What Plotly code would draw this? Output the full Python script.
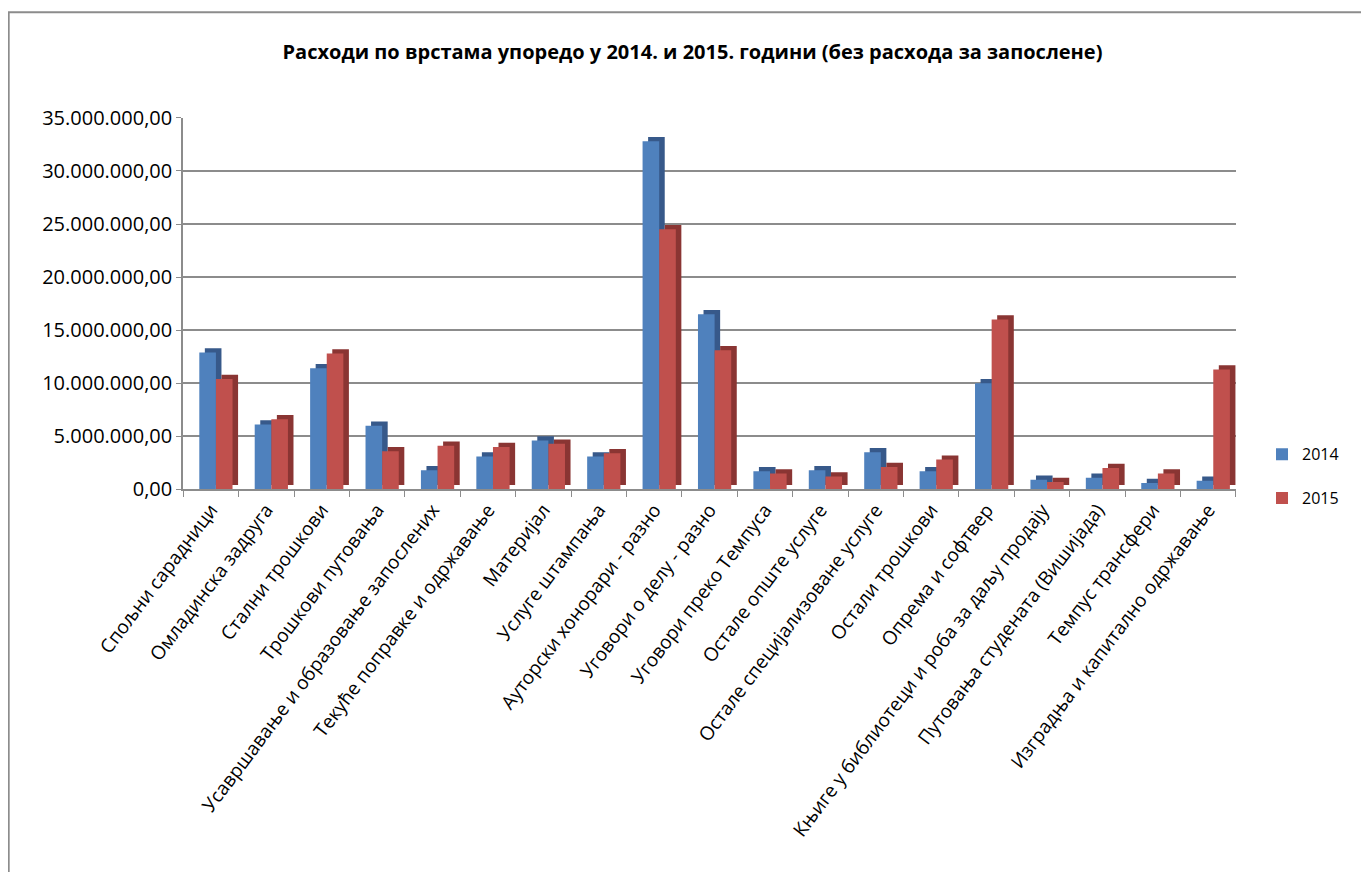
import plotly.graph_objects as go

categories = [
    "Спољни сарадници",
    "Омладинска задруга",
    "Стални трошкови",
    "Трошкови путовања",
    "Усавршавање и образовање запослених",
    "Текуће поправке и одржавање",
    "Материјал",
    "Услуге штампања",
    "Ауторски хонорари - разно",
    "Уговори о делу - разно",
    "Уговори преко Темпуса",
    "Остале опште услуге",
    "Остале специјализоване услуге",
    "Остали трошкови",
    "Опрема и софтвер",
    "Књиге у библиотеци и роба за даљу продају",
    "Путовања студената (Вишијада)",
    "Темпус трансфери",
    "Изградња и капитално одржавање",
]

values_2014 = [12900000, 6100000, 11400000, 6000000, 1800000, 3100000, 4600000, 3100000,
               32800000, 16500000, 1700000, 1800000, 3500000, 1700000, 10000000,
               900000, 1100000, 600000, 800000]
values_2015 = [10400000, 6600000, 12800000, 3600000, 4100000, 4000000, 4300000, 3400000,
               24500000, 13100000, 1500000, 1200000, 2100000, 2800000, 16000000,
               700000, 2000000, 1500000, 11300000]

y_ticks = [0, 5000000, 10000000, 15000000, 20000000, 25000000, 30000000, 35000000]

BLUE, BLUE_D = "#4F81BD", "#37598A"
RED, RED_D = "#C0504D", "#8A3533"
FONT = "Open Sans, Noto Sans, Liberation Sans, sans-serif"

W = 0.30
LIFT = 400000
SHIFT = 0.10

fig = go.Figure()
# 3D-like side faces (drawn behind the fronts)
fig.add_trace(go.Bar(x=categories, y=values_2014, base=LIFT, width=W, offset=-0.21 + SHIFT,
                     marker=dict(color=BLUE_D, line=dict(width=0)), showlegend=False,
                     hoverinfo="skip"))
fig.add_trace(go.Bar(x=categories, y=values_2014, width=W, offset=-0.21, name="2014",
                     marker=dict(color=BLUE, line=dict(width=0)), legendgroup="a"))
fig.add_trace(go.Bar(x=categories, y=values_2015, base=LIFT, width=W, offset=0.09 + SHIFT,
                     marker=dict(color=RED_D, line=dict(width=0)), showlegend=False,
                     hoverinfo="skip"))
fig.add_trace(go.Bar(x=categories, y=values_2015, width=W, offset=0.09, name="2015",
                     marker=dict(color=RED, line=dict(width=0)), legendgroup="b"))

fig.update_layout(
    template="none",
    width=1369, height=872,
    margin=dict(l=0, r=0, t=0, b=0, autoexpand=False),
    paper_bgcolor="white", plot_bgcolor="white",
    barmode="overlay",
    separators=",.",
    font=dict(family=FONT, size=17, color="black"),
    title=dict(text="<b>Расходи по врстама упоредо у 2014. и 2015. години (без расхода за запослене)</b>",
               x=0.5, xanchor="center", y=0.95, yanchor="middle",
               font=dict(family=FONT, size=20, color="black")),
    xaxis=dict(domain=[0.128, 0.897], tickangle=-53, tickson="boundaries",
               ticks="outside", ticklen=6, tickcolor="#8c8c8c", automargin=False,
               showline=True, linecolor="#8c8c8c", linewidth=2,
               showgrid=False, tickfont=dict(size=19)),
    yaxis=dict(domain=[0.448, 0.874], range=[0, 35000000], tickvals=y_ticks,
               tickformat=",.2f", ticks="outside", ticklen=5, tickcolor="#8c8c8c",
               showline=True, linecolor="#8c8c8c", linewidth=2, automargin=False,
               showgrid=True, gridcolor="#8c8c8c", gridwidth=2,
               zeroline=False, tickfont=dict(size=20)),
    legend=dict(x=0.916, xanchor="left", y=0.463, yanchor="middle",
                traceorder="grouped", tracegroupgap=20,
                font=dict(size=16), bgcolor="rgba(0,0,0,0)"),
    shapes=[dict(type="rect", xref="paper", yref="paper",
                 x0=0.0005, x1=1.2, y0=-0.2, y1=0.995,
                 line=dict(color="#8c8c8c", width=2), fillcolor="rgba(0,0,0,0)",
                 layer="below")],
)

fig.write_html("out.html")
